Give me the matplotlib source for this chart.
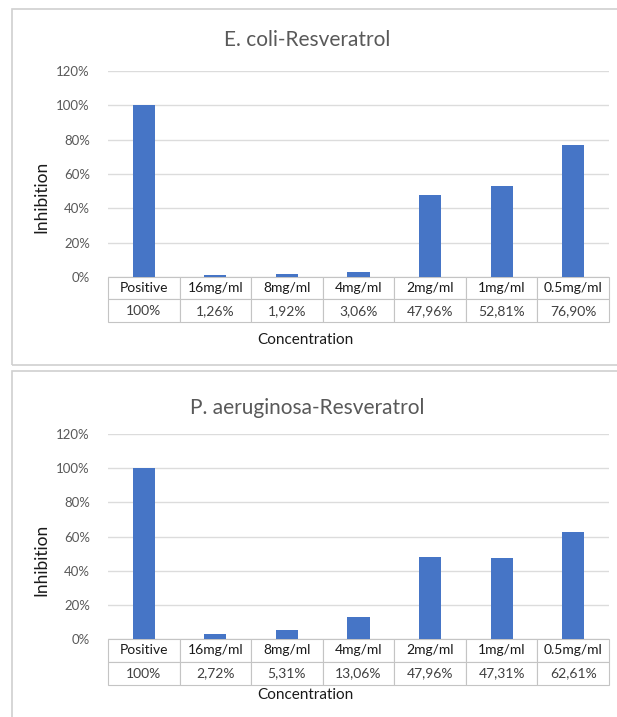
import matplotlib
matplotlib.use("Agg")
import matplotlib.pyplot as plt
from matplotlib.patches import Rectangle

plt.rcParams['font.family'] = ['Lato', 'DejaVu Sans']

categories = ["Positive", "16mg/ml", "8mg/ml", "4mg/ml", "2mg/ml", "1mg/ml", "0.5mg/ml"]
ecoli_values = [100, 1.26, 1.92, 3.06, 47.96, 52.81, 76.90]
paeruginosa_values = [100, 2.72, 5.31, 13.06, 47.96, 47.31, 62.61]
titles = ["E. coli-Resveratrol", "P. aeruginosa-Resveratrol"]
y_ticks = [0, 20, 40, 60, 80, 100, 120]

W, H = 617, 717
BAR = "#4675C6"
GRID = "#DCDCDC"
TEXT = "#595959"
EDGE = "#C4C4C4"


def pct_label(v):
    if float(v).is_integer():
        return f"{int(v)}%"
    return f"{v:.2f}".replace(".", ",") + "%"


fig = plt.figure(figsize=(W / 100, H / 100), dpi=100)
fig.patch.set_facecolor("white")


def px_rect(x0, y0, x1, y1):
    # pixel box (top-left origin) -> figure fraction [left, bottom, width, height]
    return [x0 / W, 1 - y1 / H, (x1 - x0) / W, (y1 - y0) / H]


def panel(values, title, frame, plot_box, row_h, title_y, xlabel_y):
    fx0, fy0, fx1, fy1 = frame
    fig.patches.append(Rectangle((fx0 / W, 1 - fy1 / H), (fx1 - fx0) / W, (fy1 - fy0) / H,
                                 transform=fig.transFigure, fill=False,
                                 edgecolor="#D0D0D0", linewidth=1.2))
    x0, y0, x1, y1 = plot_box
    ax = fig.add_axes(px_rect(x0, y0, x1, y1))
    xs = range(len(categories))
    ax.bar(xs, values, width=0.31, color=BAR, zorder=3)
    ax.set_xlim(-0.5, len(categories) - 0.5)
    ax.set_ylim(0, 120)
    ax.set_yticks(y_ticks)
    ax.set_yticklabels([f"{t}%" for t in y_ticks], color=TEXT, fontsize=9.5)
    ax.tick_params(axis="y", length=0, pad=13)
    ax.set_xticks([])
    ax.grid(axis="y", color=GRID, linewidth=1.0, zorder=0)
    for s in ax.spines.values():
        s.set_visible(False)

    h_frac = 2 * row_h / (y1 - y0)
    tbl = ax.table(cellText=[categories, [pct_label(v) for v in values]],
                   cellLoc="center", bbox=[0, -h_frac, 1, h_frac])
    tbl.auto_set_font_size(False)
    tbl.set_fontsize(10)
    for cell in tbl.get_celld().values():
        cell.set_edgecolor(EDGE)
        cell.set_linewidth(0.8)
        cell.get_text().set_color("#404040")
    for c in range(len(categories)):
        tbl[0, c].get_text().set_color("#1A1A1A")

    fig.text(307 / W, 1 - title_y / H, title, ha="center", va="center",
             fontsize=15, color=TEXT)
    fig.text(305 / W, 1 - xlabel_y / H, "Concentration", ha="center", va="center",
             fontsize=11, color="#1A1A1A")
    fig.text(41 / W, 1 - ((y0 + y1 + 2 * row_h) / 2) / H, "Inhibition", ha="center",
             va="center", rotation=90, fontsize=12.5, color="#1A1A1A")


panel(ecoli_values, titles[0], (12, 9, 625, 365), (108, 71, 609, 277), 22.5, 40, 340)
panel(paeruginosa_values, titles[1], (12, 371, 625, 725), (108, 434, 609, 639), 23, 408, 695)

fig.savefig("out.png", dpi=100, facecolor="white")
